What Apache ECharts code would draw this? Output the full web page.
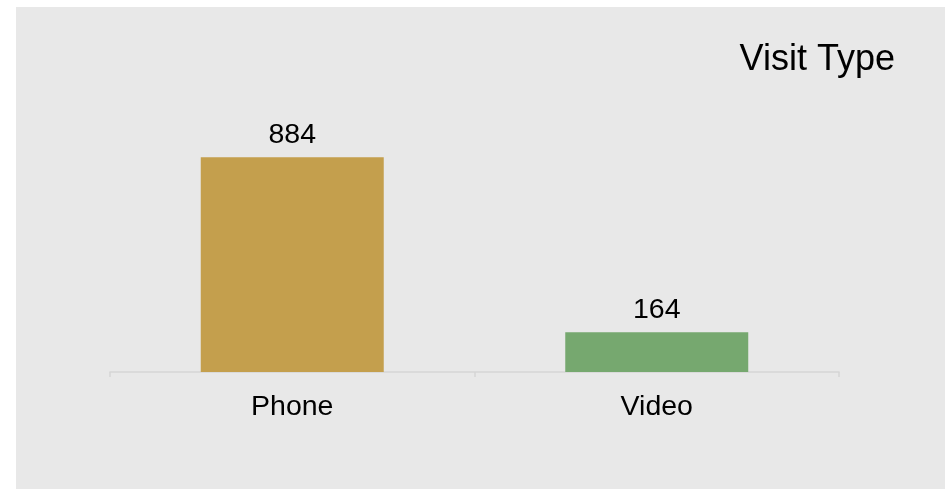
<!DOCTYPE html>
<html>
<head>
<meta charset="utf-8">
<script src="https://cdn.jsdelivr.net/npm/echarts@6/dist/echarts.min.js"></script>
<style>
  html, body { margin: 0; padding: 0; background: #ffffff; }
  #chart { width: 945px; height: 489px; }
</style>
</head>
<body>
<div id="chart"></div>
<script>
// Visit counts by type
const categories = ['Phone', 'Video'];
const visits = [884, 164];
const barColors = ['#c49f4d', '#76a86f'];
const chartTitle = 'Visit Type';

const chart = echarts.init(document.getElementById('chart'), null, { renderer: 'canvas' });

const font = '"Liberation Sans", Arial, sans-serif';

chart.setOption({
  backgroundColor: '#ffffff',
  animation: false,
  graphic: [{
    type: 'rect',
    left: 16, top: 7,
    shape: { width: 929, height: 482 },
    style: { fill: '#e8e8e8' },
    z: -10
  }],
  title: {
    text: chartTitle,
    right: 45,
    top: 37,
    textStyle: { fontFamily: font, fontSize: 36, fontWeight: 'normal', color: '#000000' }
  },
  grid: { left: 110, right: 106, top: 129, bottom: 117, containLabel: false },
  xAxis: {
    type: 'category',
    data: categories,
    axisLine: { show: true, lineStyle: { color: '#d5d5d5', width: 1.5 } },
    axisTick: { show: true, length: 5, lineStyle: { color: '#d5d5d5', width: 1.5 } },
    axisLabel: { fontFamily: font, fontSize: 28.5, color: '#000000', margin: 21 }
  },
  yAxis: {
    type: 'value',
    min: 0,
    max: 1000,
    show: false,
    splitLine: { show: false }
  },
  series: [{
    type: 'bar',
    barWidth: '50.2%',
    data: visits.map((v, i) => ({ value: v, itemStyle: { color: barColors[i] } })),
    label: {
      show: true,
      position: 'top',
      distance: 8,
      fontFamily: font,
      fontSize: 28.5,
      color: '#000000'
    }
  }]
});
</script>
</body>
</html>
